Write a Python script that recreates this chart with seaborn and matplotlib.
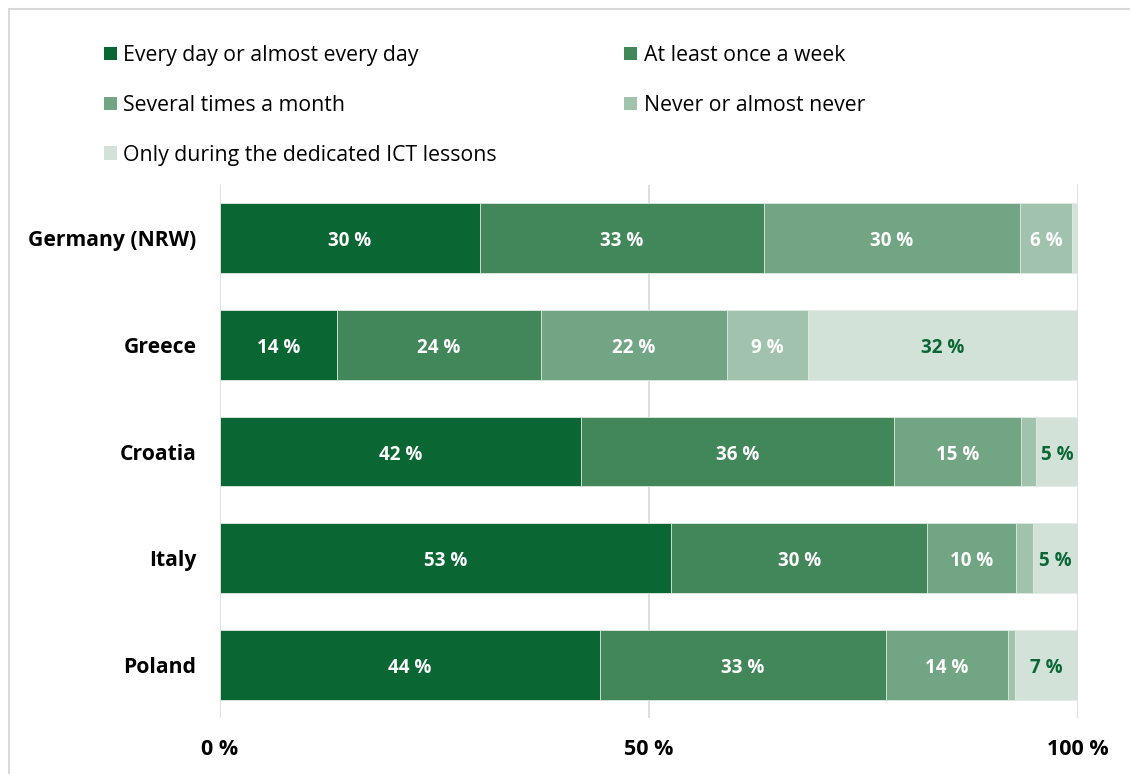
import numpy as np
import pandas as pd
import matplotlib
matplotlib.use("Agg")
import matplotlib.pyplot as plt
import seaborn as sns
from matplotlib.patches import Patch, Rectangle

# data (share of students, %)
countries = ["Germany (NRW)", "Greece", "Croatia", "Italy", "Poland"]
categories = ["Every day or almost every day", "At least once a week",
              "Several times a month", "Never or almost never",
              "Only during the dedicated ICT lessons"]
every_day = [30.3, 13.6, 42.1, 52.6, 44.3]
once_week = [33.1, 23.8, 36.4, 29.8, 33.3]
several_month = [29.8, 21.7, 14.9, 10.4, 14.2]
never = [6.1, 9.4, 1.7, 1.9, 0.8]
ict_only = [0.7, 31.5, 4.9, 5.3, 7.4]
x_ticks = [0, 50, 100]
x_ticklabels = ["0 %", "50 %", "100 %"]

colors = ["#0a6633", "#428759", "#72a584", "#a1c3ae", "#d2e2d8"]
label_colors = ["white", "white", "white", "white", "#0a6633"]

series = [every_day, once_week, several_month, never, ict_only]
df = pd.DataFrame({c: v for c, v in zip(categories, series)}, index=countries)
cum = df.cumsum(axis=1)

sns.set_theme(style="white")
plt.rcParams["font.family"] = ["Open Sans", "DejaVu Sans"]
plt.rcParams["text.color"] = "black"
plt.rcParams["xtick.color"] = "black"
plt.rcParams["ytick.color"] = "black"

fig = plt.figure(figsize=(11.3, 7.74), dpi=100)
ax = fig.add_axes([220 / 1130, 1 - 718 / 774, (1078 - 220) / 1130, (718 - 185) / 774])

# stacked bars: draw cumulative totals from the widest to the narrowest
for i in range(len(categories) - 1, -1, -1):
    d = pd.DataFrame({"country": countries, "value": cum[categories[i]].values})
    sns.barplot(data=d, x="value", y="country", order=countries, orient="h",
                color=colors[i], saturation=1, width=0.656, ax=ax,
                edgecolor="#e4ece7", linewidth=0.6, zorder=2)

# segment labels
for i, cat in enumerate(categories):
    for j, country in enumerate(countries):
        v = df.loc[country, cat]
        if v < 3:
            continue
        xc = cum.loc[country, cat] - v / 2
        ax.text(xc, j + 0.03, f"{round(v)} %", ha="center", va="center",
                color=label_colors[i], fontsize=13.5, fontweight="bold", zorder=3)

ax.set_xlim(0, 100)
ax.set_ylim(len(countries) - 0.5, -0.5)
ax.set_xticks(x_ticks)
ax.set_xticklabels(x_ticklabels, fontsize=15.5, fontweight="bold")
ax.tick_params(axis="x", length=0, pad=15)
ax.tick_params(axis="y", length=0, pad=17)
for lab in ax.get_yticklabels():
    lab.set_fontweight("bold")
    lab.set_fontsize(15.2)
ax.set_xlabel("")
ax.set_ylabel("")
ax.xaxis.grid(True, color="#d9d9d9", linewidth=1.2, zorder=0)
ax.set_axisbelow(True)
sns.despine(ax=ax, left=True, bottom=True)

# legend: two columns, filled row by row
handles = [Patch(facecolor=c, edgecolor="none") for c in colors]
order = [0, 2, 4, 1, 3]
leg = fig.legend([handles[k] for k in order], [categories[k] for k in order],
                 ncol=2, loc="upper left", bbox_to_anchor=(85 / 1130, 1 - 26 / 774),
                 frameon=False, fontsize=15.3, handlelength=0.6, handleheight=0.6,
                 handletextpad=0.3, labelspacing=1.35, columnspacing=6.0)

# outer frame
fig.patches.append(Rectangle((9 / 1130, -0.5), 2, 1.5 - 9 / 774, transform=fig.transFigure,
                             fill=False, edgecolor="#d9d9d9", linewidth=1.5))

fig.savefig("out.png", dpi=100)
